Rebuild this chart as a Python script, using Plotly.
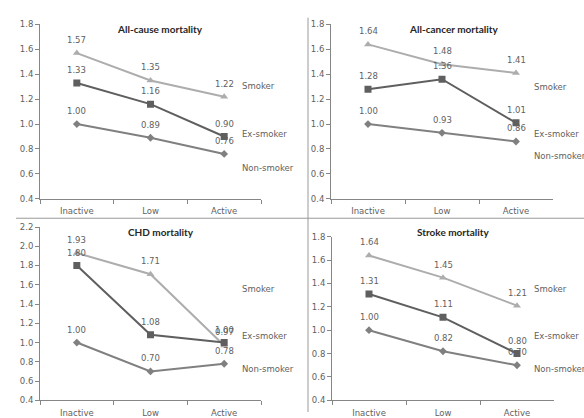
import plotly.graph_objects as go

# ---- data -------------------------------------------------------------
categories = ["Inactive", "Low", "Active"]
series_names = ["Smoker", "Ex-smoker", "Non-smoker"]

all_cause_smoker = [1.57, 1.35, 1.22]
all_cause_ex = [1.33, 1.16, 0.90]
all_cause_non = [1.00, 0.89, 0.76]

all_cancer_smoker = [1.64, 1.48, 1.41]
all_cancer_ex = [1.28, 1.36, 1.01]
all_cancer_non = [1.00, 0.93, 0.86]

chd_smoker = [1.93, 1.71, 0.97]
chd_ex = [1.80, 1.08, 1.00]
chd_non = [1.00, 0.70, 0.78]

stroke_smoker = [1.64, 1.45, 1.21]
stroke_ex = [1.31, 1.11, 0.80]
stroke_non = [1.00, 0.82, 0.70]

panel_titles = ["All-cause mortality", "All-cancer mortality",
                "CHD mortality", "Stroke mortality"]
y_ranges = [(0.4, 1.8), (0.4, 1.8), (0.4, 2.2), (0.4, 1.8)]

# ---- layout helpers (pixel -> paper) ----------------------------------
W, H = 584, 418


def fx(px):
    return px / W


def fy(py):
    return 1 - py / H


# plot-area boxes in pixels: (left, right, top, bottom)
boxes = [(40, 261, 20, 199), (331, 553, 20, 199),
         (40, 261, 228, 406), (332, 554, 238, 406)]
title_pos = [(160, 25), (454, 25), (161, 233), (453, 233)]
label_pos = [(240, [83, 132, 167]), (532, [84, 132, 155]),
             (240, [292, 340, 374]), (532, [292, 340, 374])]

panel_data = [
    [all_cause_smoker, all_cause_ex, all_cause_non],
    [all_cancer_smoker, all_cancer_ex, all_cancer_non],
    [chd_smoker, chd_ex, chd_non],
    [stroke_smoker, stroke_ex, stroke_non],
]

colors = ["#adadad", "#5f5f5f", "#808080"]
symbols = ["triangle-up", "square", "diamond"]
msizes = [7, 7, 6]

FONT = "DejaVu Sans"
TXT = "#5f5f5f"
AXC = "#868686"

fig = go.Figure()
annotations = []

for i, (series_vals, box) in enumerate(zip(panel_data, boxes)):
    ax = "" if i == 0 else str(i + 1)
    for vals, name, col, sym, ms in zip(series_vals, series_names,
                                        colors, symbols, msizes):
        fig.add_trace(go.Scatter(
            x=categories, y=vals, name=name, mode="lines+markers",
            line=dict(color=col, width=2),
            marker=dict(symbol=sym, size=ms, color=col),
            xaxis="x" + ax, yaxis="y" + ax, showlegend=False,
            hoverinfo="skip",
        ))
        for c, v in zip(categories, vals):
            annotations.append(dict(
                x=c, y=v, xref="x" + ax, yref="y" + ax, text=f"{v:.2f}",
                showarrow=False, yshift=13,
                font=dict(family=FONT, size=8.5, color=TXT)))

    left, right, top, bottom = box
    lo, hi = y_ranges[i]
    fig.layout["xaxis" + ax] = dict(
        domain=[fx(left), fx(right)], anchor="y" + ax,
        type="category", range=[-0.5, 2.5], tickson="boundaries",
        ticks="outside", ticklen=4, tickcolor=AXC, ticklabelstandoff=4,
        showline=True, linecolor=AXC, linewidth=1, showgrid=False,
        zeroline=False, fixedrange=True,
        tickfont=dict(family=FONT, size=8.5, color=TXT))
    fig.layout["yaxis" + ax] = dict(
        domain=[fy(bottom), fy(top)], anchor="x" + ax,
        range=[lo, hi], dtick=0.2, tickformat=".1f",
        ticks="outside", ticklen=4, tickcolor=AXC,
        showline=True, linecolor=AXC, linewidth=1, showgrid=False,
        zeroline=False, fixedrange=True,
        tickfont=dict(family=FONT, size=8.5, color=TXT))

    tx, ty = title_pos[i]
    annotations.append(dict(
        x=fx(tx), y=fy(ty), xref="paper", yref="paper",
        text=f"<b>{panel_titles[i]}</b>", showarrow=False,
        xanchor="center", yanchor="middle",
        font=dict(family="Lato", size=10, color="#262626")))

    lx, lys = label_pos[i]
    for name, ly in zip(series_names, lys):
        annotations.append(dict(
            x=fx(lx), y=fy(ly), xref="paper", yref="paper", text=name,
            showarrow=False, xanchor="left", yanchor="middle",
            font=dict(family=FONT, size=8.5, color=TXT)))

# panel dividers
shapes = [
    dict(type="line", xref="paper", yref="paper",
         x0=fx(16), x1=1, y0=fy(219), y1=fy(219),
         line=dict(color="#9a9a9a", width=1)),
    dict(type="line", xref="paper", yref="paper",
         x0=fx(308), x1=fx(308), y0=fy(13), y1=0,
         line=dict(color="#9a9a9a", width=1)),
]

fig.update_layout(
    width=W, height=H, margin=dict(l=0, r=0, t=0, b=0),
    paper_bgcolor="white", plot_bgcolor="white",
    annotations=annotations, shapes=shapes,
)

fig.write_html("out.html")
